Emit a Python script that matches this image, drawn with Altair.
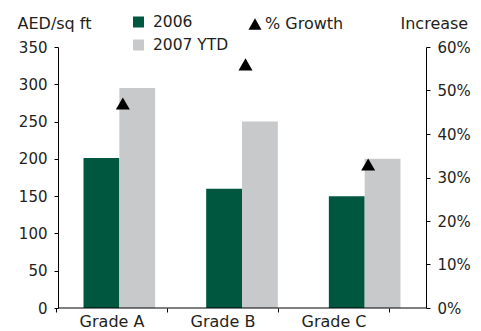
import altair as alt
import pandas as pd

# Office rents by grade (AED per sq ft) and year-on-year growth
grades = ["Grade A", "Grade B", "Grade C"]
series = ["2006", "2007 YTD"]
rent_2006 = [201, 160, 150]
rent_2007 = [295, 250, 200]
growth = [0.47, 0.56, 0.33]

W, H = 368, 261
FONT = "DejaVu Sans"
GREEN = "#00573F"
GREY = "#C8C9CB"
TXT = "#231F20"

bars_df = pd.DataFrame({
    "Grade": grades * 2,
    "Series": [series[0]] * 3 + [series[1]] * 3,
    "Value": rent_2006 + rent_2007,
})
growth_df = pd.DataFrame({"Grade": grades, "Growth": growth})

band = alt.Scale(domain=grades, paddingInner=0.416, paddingOuter=0.208)

bars = alt.Chart(bars_df).mark_bar().encode(
    x=alt.X("Grade:N", scale=band, axis=None),
    xOffset=alt.XOffset("Series:N", sort=series, scale=alt.Scale(domain=series, paddingInner=0, paddingOuter=0)),
    y=alt.Y("Value:Q", scale=alt.Scale(domain=[0, 350], nice=False),
            axis=alt.Axis(values=list(range(0, 351, 50)), title="AED/sq ft",
                          titleAngle=0, titleAlign="left", titleBaseline="alphabetic",
                          titleX=-41, titleY=-19, grid=False, tickSize=4,
                          labelPadding=7)),
    color=alt.Color("Series:N", sort=series,
                    scale=alt.Scale(domain=series, range=[GREEN, GREY]), legend=None),
)

points = alt.Chart(growth_df).mark_point(
    shape="triangle-up", filled=True, color="black", opacity=1, size=196, xOffset=3.5
).encode(
    x=alt.X("Grade:N", scale=band, axis=None),
    y=alt.Y("Growth:Q", scale=alt.Scale(domain=[0, 0.6], nice=False),
            axis=alt.Axis(orient="right", values=[0, 0.1, 0.2, 0.3, 0.4, 0.5, 0.6],
                          format=".0%", title="Increase", titleAngle=0,
                          titleAlign="left", titleBaseline="alphabetic",
                          titleX=-26, titleY=-19, grid=False, tickSize=4,
                          labelPadding=7)),
)

# Category axis with its own band layout
cat_axis = alt.Chart(pd.DataFrame({"Grade": grades})).mark_point(opacity=0).encode(
    x=alt.X("Grade:N",
            scale=alt.Scale(domain=grades, range=[-2, 331], paddingInner=0, paddingOuter=0),
            axis=alt.Axis(title=None, tickBand="extent", domain=False, tickSize=4,
                          labelAngle=0, labelPadding=1, labelFontSize=16)),
)

baseline = alt.Chart(pd.DataFrame({"v": [0]})).mark_rule(color="black", strokeWidth=1).encode(
    x=alt.value(0), x2=alt.value(W), y=alt.value(H)
)

# Legend entries
leg_df = pd.DataFrame({"label": [series[0]]})
sq_green = alt.Chart(leg_df).mark_square(color=GREEN, opacity=1, size=121).encode(
    x=alt.value(80.5), y=alt.value(-25))
tx_green = alt.Chart(pd.DataFrame({"label": [series[0]]})).mark_text(
    align="left", baseline="alphabetic", font=FONT, fontSize=15.5, color=TXT).encode(
    text="label:N", x=alt.value(95), y=alt.value(-20))
sq_grey = alt.Chart(leg_df).mark_square(color=GREY, opacity=1, size=121).encode(
    x=alt.value(80.5), y=alt.value(-2))
tx_grey = alt.Chart(pd.DataFrame({"label": [series[1]]})).mark_text(
    align="left", baseline="alphabetic", font=FONT, fontSize=15.5, color=TXT).encode(
    text="label:N", x=alt.value(95), y=alt.value(3))
tri = alt.Chart(leg_df).mark_point(shape="triangle-up", filled=True, color="black",
                                   opacity=1, size=170).encode(
    x=alt.value(197), y=alt.value(-23))
tx_tri = alt.Chart(pd.DataFrame({"label": ["% Growth"]})).mark_text(
    align="left", baseline="alphabetic", font=FONT, fontSize=16, color=TXT).encode(
    text="label:N", x=alt.value(207), y=alt.value(-18))

chart = alt.layer(
    bars, points, cat_axis, baseline, sq_green, tx_green, sq_grey, tx_grey, tri, tx_tri
).resolve_scale(x="independent", y="independent").properties(
    width=W, height=H,
    autosize=alt.AutoSizeParams(type="none"),
    padding={"left": 58, "top": 47, "right": 55, "bottom": 23},
).configure_view(stroke=None).configure_axis(
    labelFont=FONT, labelFontSize=15, labelColor=TXT,
    titleFont=FONT, titleFontSize=16, titleColor=TXT, titleFontWeight="normal",
    domainColor="black", tickColor="black", domainWidth=1, tickWidth=1,
)

chart.save("out.html", embed_options={"renderer": "svg", "actions": False})
